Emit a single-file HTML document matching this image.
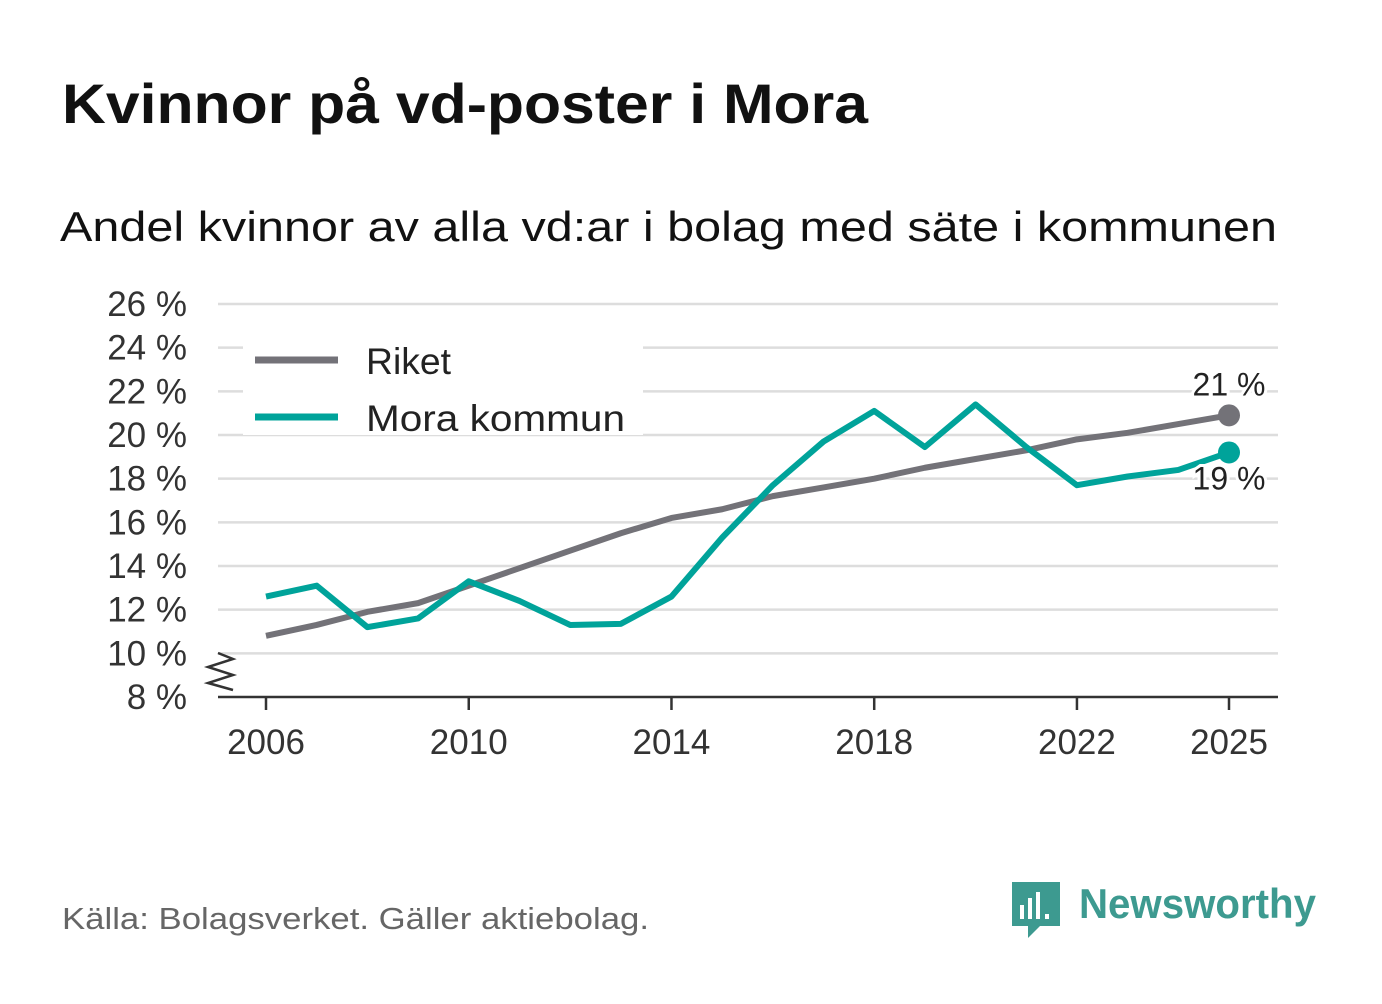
<!DOCTYPE html>
<html><head><meta charset="utf-8"><style>
body{margin:0;background:#fff;width:1382px;height:999px;overflow:hidden;font-family:"Liberation Sans",sans-serif}
</style></head><body>
<svg width="1382" height="999" viewBox="0 0 1382 999" xmlns="http://www.w3.org/2000/svg">
<rect width="1382" height="999" fill="#fff"/>
<text x="62" y="123" font-size="56" font-weight="bold" fill="#111" textLength="806" lengthAdjust="spacingAndGlyphs">Kvinnor på vd-poster i Mora</text>
<text x="60" y="241" font-size="42" fill="#111" textLength="1217" lengthAdjust="spacingAndGlyphs">Andel kvinnor av alla vd:ar i bolag med säte i kommunen</text>
<g id="grid"></g>
<g id="yt"></g>
<g id="xt"></g>
<rect x="243" y="345" width="400" height="90" fill="#fff"/>
<line x1="255" y1="360" x2="338" y2="360" stroke="#737278" stroke-width="7"/>
<text x="366" y="374" font-size="37" fill="#222" textLength="85" lengthAdjust="spacingAndGlyphs">Riket</text>
<line x1="255" y1="417" x2="338" y2="417" stroke="#00a39a" stroke-width="7"/>
<text x="366" y="431" font-size="37" fill="#222" textLength="259" lengthAdjust="spacingAndGlyphs">Mora kommun</text>
<polyline points="218,653 233,659 208,667 233,675 208,683 233,690" fill="none" stroke="#333" stroke-width="2.5"/>
<line x1="218" y1="697" x2="1278" y2="697" stroke="#333" stroke-width="2.5"/>
<g id="series"></g>
<text x="62" y="929" font-size="31" fill="#666" textLength="587" lengthAdjust="spacingAndGlyphs">Källa: Bolagsverket. Gäller aktiebolag.</text>
<g>
<path d="M1012 882h48v44h-20l-12 12v-12h-16z" fill="#3d9a90"/>
<rect x="1020" y="905" width="4" height="14" fill="#fff"/><rect x="1028" y="898" width="4" height="21" fill="#fff"/><rect x="1036" y="892" width="4" height="27" fill="#fff"/><rect x="1045" y="914" width="4" height="5" fill="#fff"/>
<text x="1079" y="918" font-size="42" font-weight="bold" fill="#3d9a90" textLength="237" lengthAdjust="spacingAndGlyphs">Newsworthy</text>
</g>
</svg>
<script>
const years=[2006,2007,2008,2009,2010,2011,2012,2013,2014,2015,2016,2017,2018,2019,2020,2021,2022,2023,2024,2025];
const riket=[10.8,11.3,11.9,12.3,13.1,13.9,14.7,15.5,16.2,16.6,17.2,17.6,18.0,18.5,18.9,19.3,19.8,20.1,20.5,20.9];
const mora=[12.6,13.1,11.2,11.6,13.3,12.4,11.3,11.35,12.6,15.3,17.7,19.7,21.1,19.45,21.4,19.45,17.7,18.1,18.4,19.2];
const yTicks=[8,10,12,14,16,18,20,22,24,26];
const xTicks=[2006,2010,2014,2018,2022,2025];
const NS="http://www.w3.org/2000/svg";
const x=v=>266+(v-2006)*(1229-266)/19;
const y=v=>697-(v-8)*(697-304)/18;
function mk(tag,attrs,parent,txt){const e=document.createElementNS(NS,tag);for(const k in attrs)e.setAttribute(k,attrs[k]);if(txt!==undefined)e.textContent=txt;document.getElementById(parent).appendChild(e);return e;}
yTicks.forEach(t=>{
 if(t>8){const g=mk('line',{x1:218,x2:1278,y1:y(t),y2:y(t),stroke:'#ddd','stroke-width':2.5},'grid');
 
 }
 const l=mk('text',{x:187,y:y(t)+12,'font-size':35,fill:'#333','text-anchor':'end'},'yt',t+' %');
 
 
});
xTicks.forEach(t=>{
 const tk=mk('line',{x1:x(t),x2:x(t),y1:697,y2:710,stroke:'#333','stroke-width':2.5},'xt');
 
 
 const l=mk('text',{x:x(t),y:754,'font-size':35,fill:'#333','text-anchor':'middle'},'xt',t);
 
 
});
function line(vals,col,name){
 const p=mk('polyline',{points:vals.map((v,i)=>x(years[i])+','+y(v)).join(' '),fill:'none',stroke:col,'stroke-width':6,'stroke-linejoin':'round'},'series');
 
 
 const n=vals.length-1;
 const c=mk('circle',{cx:x(years[n]),cy:y(vals[n]),r:11,fill:col},'series');
 
 
}
line(riket,'#737278','riket');
line(mora,'#00a39a','mora');
const nR=riket.length-1,nM=mora.length-1;
const a=mk('text',{x:x(years[nR]),y:y(riket[nR])-20,'font-size':32,fill:'#222','text-anchor':'middle',stroke:'#fff','stroke-width':6,'paint-order':'stroke'},'series',Math.round(riket[nR])+' %');


const b=mk('text',{x:x(years[nM]),y:y(mora[nM])+37,'font-size':32,fill:'#222','text-anchor':'middle',stroke:'#fff','stroke-width':6,'paint-order':'stroke'},'series',Math.round(mora[nM])+' %');


</script>
</body></html>
